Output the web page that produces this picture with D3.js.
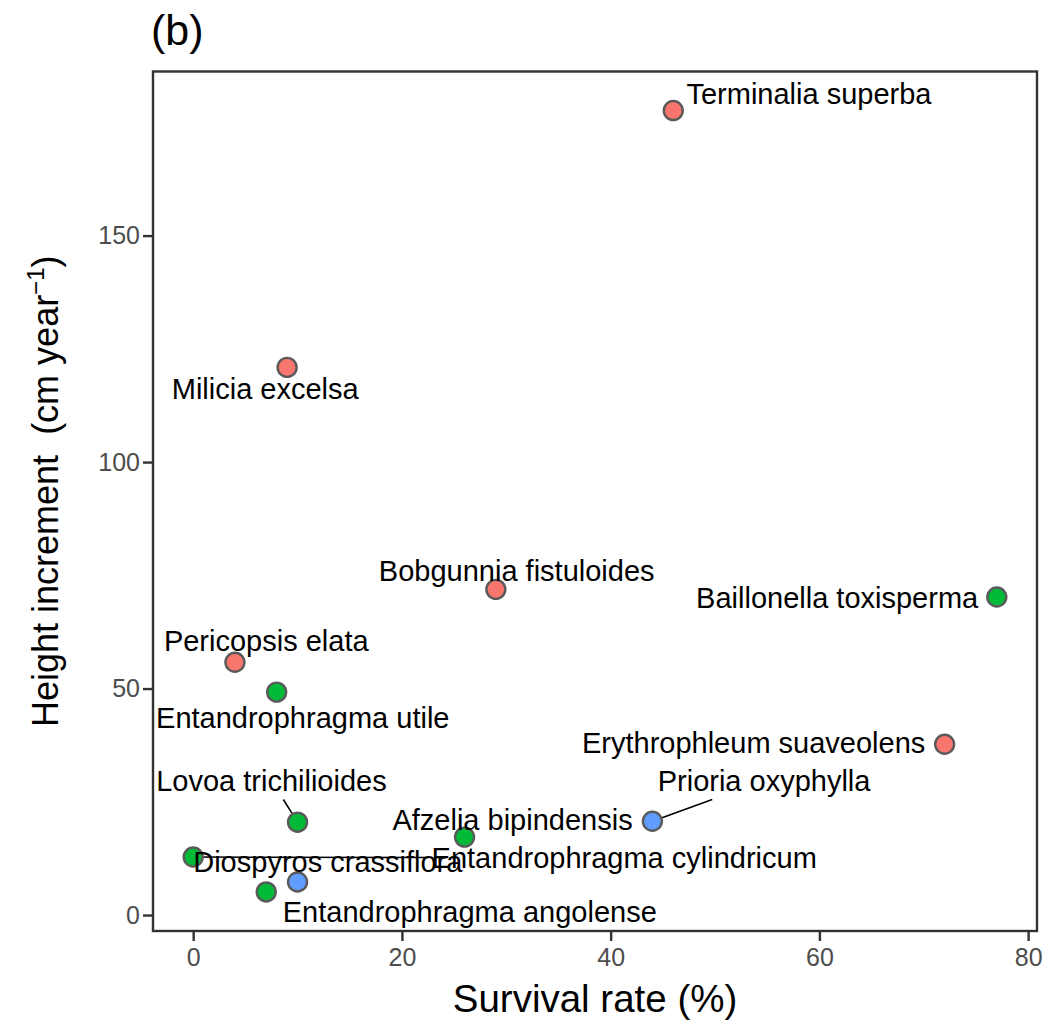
<!DOCTYPE html>
<html>
<head>
<meta charset="utf-8">
<script src="https://cdn.jsdelivr.net/npm/d3@7"></script>
<style>
  body { margin: 0; background: #fff; }
  text { font-family: "Liberation Sans", Arial, sans-serif; }
</style>
</head>
<body>
<svg id="chart" width="1059" height="1023"></svg>
<script>
// ---- data ----
const species = [
  "Terminalia superba", "Milicia excelsa", "Bobgunnia fistuloides", "Baillonella toxisperma",
  "Pericopsis elata", "Entandrophragma utile", "Erythrophleum suaveolens", "Lovoa trichilioides",
  "Prioria oxyphylla", "Afzelia bipindensis", "Entandrophragma cylindricum", "Diospyros crassiflora",
  "Entandrophragma angolense"
];
const survival = [46, 9, 29, 77, 4, 8, 72, 10, 44, 26, 0, 10, 7];
const heightInc = [177.6, 120.9, 71.9, 70.2, 55.8, 49.2, 37.7, 20.5, 20.7, 17.2, 12.8, 7.3, 5.1];
const group = ["A", "A", "A", "B", "A", "B", "A", "B", "C", "B", "B", "C", "B"];
// label centres (data units), as placed by the repel layout in the reference
const labelX = [59.0, 6.9, 31.0, 61.7, 7.0, 10.5, 53.7, 7.5, 54.7, 30.6, 41.3, 12.9, 26.5];
const labelY = [181.3, 116.1, 76.0, 70.0, 60.4, 43.6, 37.9, 29.7, 29.7, 20.9, 12.6, 11.7, 0.7];
const xTicks = [0, 20, 40, 60, 80];
const yTicks = [0, 50, 100, 150];
const groups = ["A", "B", "C"];
const groupColors = ["#F8766D", "#00BA38", "#619CFF"];

// ---- layout ----
const svg = d3.select("#chart");
const P = { left: 153, right: 1037, top: 71.5, bottom: 931 };

function expand(ext) { const r = ext[1] - ext[0]; return [ext[0] - 0.05 * r, ext[1] + 0.05 * r]; }
const x = d3.scaleLinear().domain(expand(d3.extent(survival))).range([P.left, P.right]);
const y = d3.scaleLinear().domain(expand(d3.extent(heightInc))).range([P.bottom, P.top]);
const color = d3.scaleOrdinal().domain(groups).range(groupColors);

const data = species.map((s, i) => ({
  name: s, x: survival[i], y: heightInc[i], g: group[i], lx: labelX[i], ly: labelY[i]
}));

// axes
const xAxis = svg.append("g").attr("transform", `translate(0,${P.bottom})`)
  .call(d3.axisBottom(x).tickValues(xTicks).tickSize(10).tickPadding(7).tickFormat(d3.format("d")));
const yAxis = svg.append("g").attr("transform", `translate(${P.left},0)`)
  .call(d3.axisLeft(y).tickValues(yTicks).tickSize(10).tickPadding(3).tickFormat(d3.format("d")));
[xAxis, yAxis].forEach(a => {
  a.select(".domain").remove();
  a.selectAll(".tick line").attr("stroke", "#333").attr("stroke-width", 2.4);
  a.selectAll(".tick text").attr("fill", "#4d4d4d").style("font-size", "25px")
    .style("font-family", "'Liberation Sans', Arial, sans-serif");
});

// panel border
svg.append("rect")
  .attr("x", P.left).attr("y", P.top)
  .attr("width", P.right - P.left).attr("height", P.bottom - P.top)
  .attr("fill", "none").attr("stroke", "#333").attr("stroke-width", 2.4);

// labels (drawn first to measure), segments, points
const segG = svg.append("g");
const ptG = svg.append("g");
const lblG = svg.append("g");

const labels = lblG.selectAll("text").data(data).join("text")
  .attr("x", d => x(d.lx)).attr("y", d => y(d.ly))
  .attr("text-anchor", "middle").attr("dominant-baseline", "central")
  .style("font-size", "29px").attr("fill", "#000")
  .text(d => d.name);

labels.each(function (d) {
  const b = this.getBBox();
  const pad = 3;
  const bx0 = b.x - pad, bx1 = b.x + b.width + pad, by0 = b.y - pad, by1 = b.y + b.height + pad;
  const px = x(d.x), py = y(d.y);
  const cx = b.x + b.width / 2, cy = b.y + b.height / 2;
  const nx = Math.max(bx0, Math.min(px, bx1)), ny = Math.max(by0, Math.min(py, by1));
  const dist = Math.hypot(px - nx, py - ny);
  if (dist < 18) return;
  const dx = cx - px, dy = cy - py;
  let t = 1;
  const ts = [];
  if (dx !== 0) { ts.push((bx0 - px) / dx, (bx1 - px) / dx); }
  if (dy !== 0) { ts.push((by0 - py) / dy, (by1 - py) / dy); }
  ts.filter(v => v > 0 && v <= 1).forEach(v => {
    const ix = px + v * dx, iy = py + v * dy;
    if (ix >= bx0 - 0.01 && ix <= bx1 + 0.01 && iy >= by0 - 0.01 && iy <= by1 + 0.01) t = Math.min(t, v);
  });
  segG.append("line")
    .attr("x1", px).attr("y1", py)
    .attr("x2", px + t * dx).attr("y2", py + t * dy)
    .attr("stroke", "#000").attr("stroke-width", 1.6);
});

ptG.selectAll("circle").data(data).join("circle")
  .attr("cx", d => x(d.x)).attr("cy", d => y(d.y)).attr("r", 9.5)
  .attr("fill", d => color(d.g)).attr("stroke", "#5a5a5a").attr("stroke-width", 2.4);

// titles
svg.append("text").attr("x", 151).attr("y", 45)
  .style("font-size", "43px").attr("fill", "#000").text("(b)");

svg.append("text").attr("x", (P.left + P.right) / 2).attr("y", 1012)
  .attr("text-anchor", "middle").style("font-size", "38.5px").attr("fill", "#000")
  .text("Survival rate (%)");

const yt = svg.append("text")
  .attr("transform", `translate(58,${(P.top + P.bottom) / 2 - 10}) rotate(-90)`)
  .attr("text-anchor", "middle").style("font-size", "36px").attr("fill", "#000");
yt.append("tspan").text("Height increment\u00a0\u00a0(cm year");
yt.append("tspan").attr("dy", -14).style("font-size", "24px").text("\u22121");
yt.append("tspan").attr("dy", 14).text(")");
</script>
</body>
</html>
